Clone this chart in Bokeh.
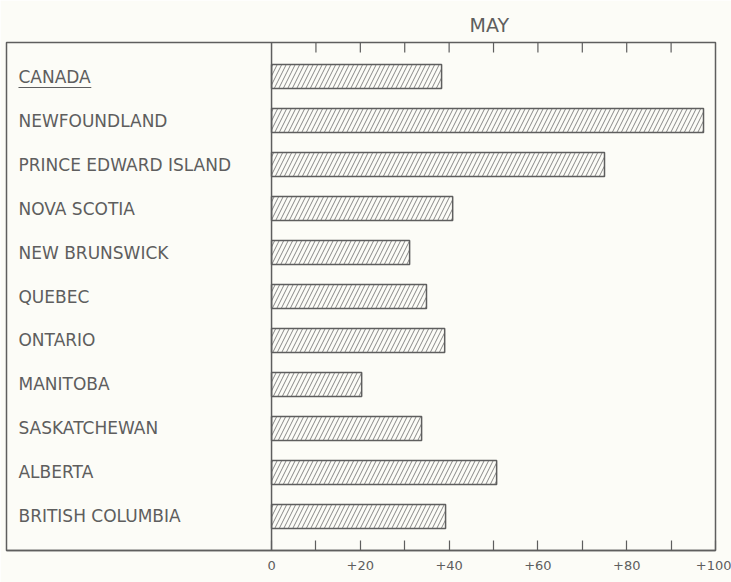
from bokeh.plotting import figure
from bokeh.models import Range1d, LinearAxis, FixedTicker, Span, ColumnDataSource
from bokeh.core.properties import value
from bokeh.embed import file_html
from bokeh.resources import INLINE

provinces = ["CANADA", "NEWFOUNDLAND", "PRINCE EDWARD ISLAND", "NOVA SCOTIA",
             "NEW BRUNSWICK", "QUEBEC", "ONTARIO", "MANITOBA", "SASKATCHEWAN",
             "ALBERTA", "BRITISH COLUMBIA"]
values = [38.3, 97.3, 75, 40.8, 31.1, 34.9, 39, 20.3, 33.8, 50.7, 39.2]
tick_values = [0, 20, 40, 60, 80, 100]
tick_labels = ["0", "+20", "+40", "+60", "+80", "+100"]
minor_values = [10, 30, 50, 70, 90]
top_ticks = [10, 20, 30, 40, 50, 60, 70, 80, 90]
title_text = "MAY"

BG = "#fcfcf7"
INK = "#5e5e5e"
FONT = "DejaVu Sans"

Y_TOP = -0.773
Y_BOT = 10.773
PX_PER_ROW = 44.0

idx = list(range(len(provinces)))
label_x = [-57.0] * len(provinces)
src = ColumnDataSource(dict(y=idx, v=values, name=provinces, lx=label_x))

p = figure(width=731, height=582, output_backend="svg", toolbar_location=None,
           x_range=Range1d(-59.7, 100), y_range=Range1d(Y_BOT, Y_TOP),
           min_border_left=6, min_border_right=16, min_border_top=42,
           min_border_bottom=32, x_axis_location=None, y_axis_location=None,
           background_fill_color=BG, border_fill_color=BG)
p.xgrid.visible = False
p.ygrid.visible = False
p.outline_line_color = INK
p.outline_line_width = 1.5

p.title.text = title_text
p.title.align = "left"
p.title.offset = 490 - 27
p.title.text_font = FONT
p.title.text_font_size = "19px"
p.title.text_font_style = "normal"
p.title.text_color = INK
p.title.standoff = 13

p.hbar(y="y", left=0, right="v", height=0.55, source=src,
       fill_color=BG, line_color=INK, line_width=1.5,
       hatch_pattern="/", hatch_color="#7a7a7a", hatch_weight=0.9, hatch_scale=9)

p.add_layout(Span(location=0, dimension="height", line_color=INK, line_width=1.5))

p.text(x="lx", y="y", text="name", source=src, text_font=value(FONT),
       text_font_size="17px", text_color=INK, text_baseline="middle",
       text_align="left")
# underline under CANADA
p.segment(x0=[-57.0], x1=[-57.0 + 16.4], y0=[0.25], y1=[0.25],
          line_color=INK, line_width=1.2)

# ticks hanging from the top edge
p.segment(x0=top_ticks, x1=top_ticks, y0=[Y_TOP] * len(top_ticks),
          y1=[Y_TOP + 10 / PX_PER_ROW] * len(top_ticks),
          line_color=INK, line_width=1.2)

bot = LinearAxis(ticker=FixedTicker(ticks=tick_values, minor_ticks=minor_values))
bot.major_tick_in = 10
bot.major_tick_out = 0
bot.minor_tick_in = 10
bot.minor_tick_out = 0
bot.axis_line_color = INK
bot.axis_line_width = 1.5
bot.major_tick_line_color = INK
bot.minor_tick_line_color = INK
bot.major_tick_line_width = 1.2
bot.minor_tick_line_width = 1.2
bot.major_label_overrides = {t: l for t, l in zip(tick_values, tick_labels)}
bot.major_label_text_font = FONT
bot.major_label_text_font_size = "13px"
bot.major_label_text_color = INK
bot.major_label_standoff = 10
p.add_layout(bot, "below")

open("out.html", "w").write(file_html(p, INLINE))
